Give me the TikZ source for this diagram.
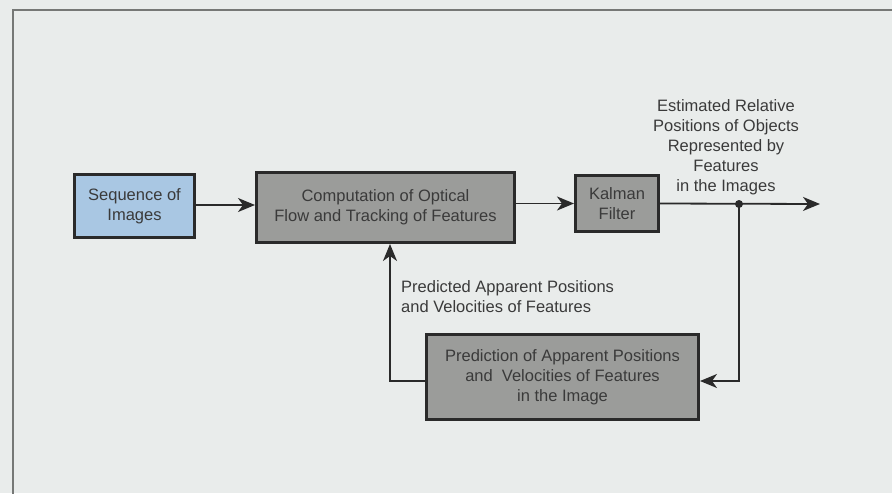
\documentclass[tikz,border=0pt]{standalone}
\usepackage{fontspec}
\setmainfont{Liberation Sans}
\usetikzlibrary{arrows.meta}

\definecolor{paper}{HTML}{E9ECEB}
\definecolor{boxgray}{HTML}{9B9C9A}
\definecolor{imgblue}{HTML}{A9C7E3}
\definecolor{ink}{HTML}{2A2A2A}
\definecolor{txt}{HTML}{3A3A3A}
\definecolor{rule}{HTML}{767876}

\tikzset{
  block/.style={draw=ink, line width=3pt, fill=boxgray, text=txt, align=center,
    inner sep=0pt, font=\fontsize{16.5}{20}\selectfont},
  flow/.style={draw=ink, line width=1.8pt, -{Stealth[length=17pt,width=14pt,inset=5pt]}},
  note/.style={text=txt, font=\fontsize{16.5}{20}\selectfont}
}

\begin{document}
\begin{tikzpicture}[x=1pt,y=-1pt]
  \fill[paper] (0,0) rectangle (892,493);
  \useasboundingbox (0,0) rectangle (892,493);
  \draw[rule, line width=2pt] (13,494) -- (13,10) -- (893,10);

  % blocks
  \node[block, fill=imgblue, minimum width=120pt, minimum height=63pt] (seq) at (134.5,206) {Sequence of\\Images};
  \node[block, minimum width=258pt, minimum height=70pt] (comp) at (385.5,207.5) {Computation of Optical\\Flow and Tracking of Features};
  \node[block, minimum width=83pt, minimum height=56pt] (kalman) at (617,203.5) {Kalman\\Filter};
  \node[block, minimum width=272pt, minimum height=85pt] (pred) at (562.5,377) {Prediction of Apparent Positions\\and~ Velocities of Features\\in the Image};

  % labels
  \node[note, align=center] (est) at (726,147) {Estimated Relative\\Positions of Objects\\Represented by\\Features\\in the Images};
  \node[note, align=left, anchor=west, inner sep=0pt] (predlbl) at (401,297) {Predicted Apparent Positions\\and Velocities of Features};

  % connections
  \coordinate (split) at (739,204);
  \coordinate (out) at (820,204);
  \coordinate (up) at (390,381);
  \draw[flow] (seq.east |- 0,205) -- (comp.west |- 0,205);
  \draw[flow] (comp.east |- kalman.west) -- (kalman.west);
  \draw[flow] (kalman.east) -- (out);
  \draw[flow] (split) |- (pred.east |- up);
  \draw[flow] (pred.west |- up) -- (up) -- (up |- comp.south);
  \fill[ink] (split) circle (4pt);
\end{tikzpicture}
\end{document}
